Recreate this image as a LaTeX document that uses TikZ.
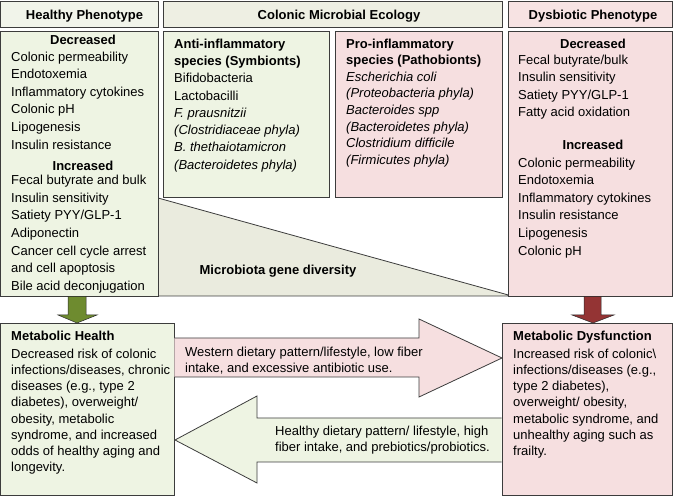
\documentclass[tikz,border=0pt]{standalone}
\usepackage{fontspec}
\setmainfont{Liberation Sans}
\definecolor{bordc}{HTML}{3C3C3C}
\definecolor{lgreen}{HTML}{EEF4E3}
\definecolor{lpink}{HTML}{F6DFE0}
\definecolor{hgreen}{HTML}{F1F4EA}
\definecolor{hbeige}{HTML}{EEEFE3}
\definecolor{hpink}{HTML}{F7E3E3}
\definecolor{trif}{HTML}{EAEBDE}
\definecolor{darrg}{HTML}{6E8B2F}
\definecolor{darrr}{HTML}{943434}
\begin{document}
\begin{tikzpicture}[x=1pt,y=-1pt,
  box/.style={draw=bordc, line width=0.8pt, anchor=north west, inner sep=0pt, outer sep=0pt},
  txt/.style={anchor=north west, inner sep=0pt, align=left, font=\fontsize{13}{17.6}\selectfont},
  hd/.style={inner sep=0pt, font=\fontsize{13}{16}\selectfont\bfseries},
  bigarrow/.style={draw=bordc, line width=0.8pt},
  downarrow/.style={draw=bordc!70!black, line width=0.5pt}]
\useasboundingbox (0,0) rectangle (673,497);

% header boxes
\node[box, fill=hgreen, minimum width=158pt, minimum height=26pt] (hh) at (0,1) {};
\node[box, fill=hbeige, minimum width=339pt, minimum height=26pt] (hc) at (163,1) {};
\node[box, fill=hpink, minimum width=164pt, minimum height=26pt] (hd) at (508,1) {};
\node[hd, anchor=base] (hht) at (84.5,19.5) {Healthy Phenotype};
\node[hd, anchor=base] (hct) at (339,19.5) {Colonic Microbial Ecology};
\node[hd, anchor=base] (hdt) at (593,19.5) {Dysbiotic Phenotype};

% triangle
\path[fill=trif, draw=bordc, line width=0.8pt] (158,198) -- (512,296) -- (158,296) -- cycle;
\node[hd, anchor=base] (mgd) at (278,275) {Microbiota gene diversity};

% main boxes
\node[box, fill=lgreen, minimum width=158pt, minimum height=265pt] (hp) at (0,31) {};
\node[box, fill=lgreen, minimum width=166pt, minimum height=166pt] (ai) at (163,31) {};
\node[box, fill=lpink, minimum width=167pt, minimum height=166pt] (pi) at (335,31) {};
\node[box, fill=lpink, minimum width=164pt, minimum height=265pt] (dp) at (508,31) {};

% healthy phenotype text
\node[hd] (hpdec) at (83,40) {Decreased};
\node[txt] (hpl1) at (11,51.5) {Colonic permeability\\Endotoxemia\\Inflammatory cytokines\\Colonic pH\\Lipogenesis\\Insulin resistance};
\node[hd] (hpinc) at (83,166) {Increased};
\node[txt] (hpl2) at (11,175) {Fecal butyrate and bulk\\Insulin sensitivity\\Satiety PYY/GLP-1\\Adiponectin\\Cancer cell cycle arrest\\and cell apoptosis\\Bile acid deconjugation};

% anti-inflammatory
\node[txt, font=\fontsize{13}{17.3}\selectfont] (ait) at (174,38.5) {\textbf{Anti-inflammatory}\\\textbf{species (Symbionts)}\\Bifidobacteria\\Lactobacilli\\\textit{F. prausnitzii}\\\textit{(Clostridiaceae phyla)}\\\textit{B. thethaiotamicron}\\\textit{(Bacteroidetes phyla)}};

% pro-inflammatory
\node[txt, font=\fontsize{13}{16.6}\selectfont] (pit) at (346,38.5) {\textbf{Pro-inflammatory}\\\textbf{species (Pathobionts)}\\\textit{Escherichia coli}\\\textit{(Proteobacteria phyla)}\\\textit{Bacteroides spp}\\\textit{(Bacteroidetes phyla)}\\\textit{Clostridium difficile}\\\textit{(Firmicutes phyla)}};

% dysbiotic phenotype text
\node[hd] (dpdec) at (593,44) {Decreased};
\node[txt] (dpl1) at (518,54.5) {Fecal butyrate/bulk\\Insulin sensitivity\\Satiety PYY/GLP-1\\Fatty acid oxidation};
\node[hd] (dpinc) at (593,145) {Increased};
\node[txt] (dpl2) at (518,157.5) {Colonic permeability\\Endotoxemia\\Inflammatory cytokines\\Insulin resistance\\Lipogenesis\\Colonic pH};

% bottom boxes
\node[box, fill=lgreen, minimum width=174pt, minimum height=172pt] (mh) at (0,323) {};
\node[box, fill=lpink, minimum width=170pt, minimum height=172pt] (md) at (502,323) {};
\node[txt, font=\fontsize{13}{16.2}\selectfont] (mht) at (11,331) {\textbf{Metabolic Health}\\[1.5pt]Decreased risk of colonic\\infections/diseases, chronic\\diseases (e.g., type 2\\diabetes), overweight/\\obesity, metabolic\\syndrome, and increased\\odds of healthy aging and\\longevity.};
\node[txt, font=\fontsize{13}{16.2}\selectfont] (mdt) at (513,331) {\textbf{Metabolic Dysfunction}\\[1.5pt]Increased risk of colonic\textbackslash\\infections/diseases (e.g.,\\type 2 diabetes),\\overweight/ obesity,\\metabolic syndrome, and\\unhealthy aging such as\\frailty.};

% down arrows
\path[fill=darrg, downarrow] (68,296.4) -- (86,296.4) -- (86,315) -- (97,315) -- (77,323) -- (58,315) -- (68,315) -- cycle;
\path[fill=darrr, downarrow] (584,296.4) -- (601,296.4) -- (601,315) -- (614,315) -- (593,323) -- (572,315) -- (584,315) -- cycle;

% big horizontal arrows
\path[fill=lpink, bigarrow] (174.4,338) -- (419,338) -- (419,319) -- (502,358) -- (419,397) -- (419,377) -- (174.4,377);
\path[fill=lgreen, bigarrow] (501.6,418) -- (257,418) -- (257,396) -- (175,440) -- (257,483) -- (257,462) -- (501.6,462);
\node[txt, font=\fontsize{13}{16}\selectfont] (wt) at (185,346.5) {Western dietary pattern/lifestyle, low fiber\\intake, and excessive antibiotic use.};
\node[txt, font=\fontsize{13}{16}\selectfont] (ht) at (275,425.5) {Healthy dietary pattern/ lifestyle, high\\fiber intake, and prebiotics/probiotics.};
\end{tikzpicture}
\end{document}
